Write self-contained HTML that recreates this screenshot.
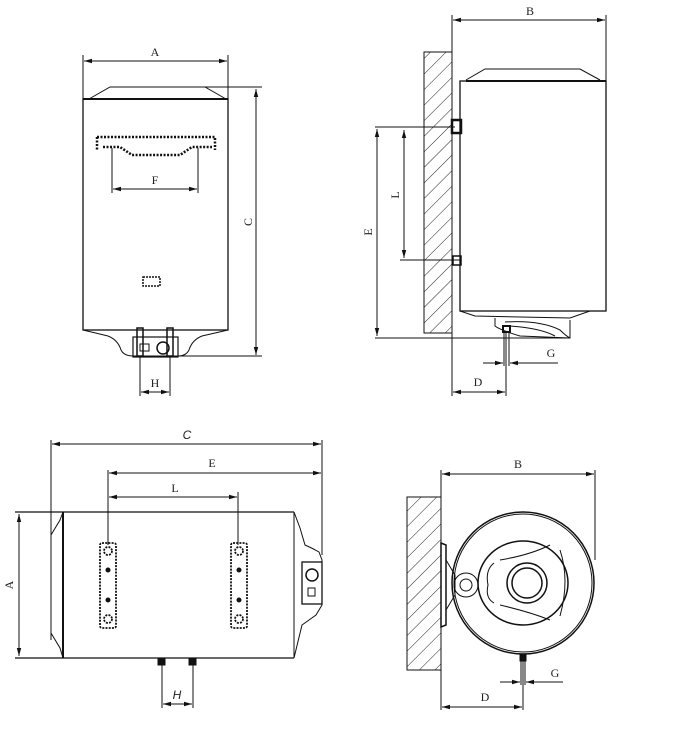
<!DOCTYPE html>
<html><head><meta charset="utf-8"><style>
html,body{margin:0;padding:0;background:#fff}
svg{display:block}
text{font-family:"Liberation Serif",serif;font-size:12px;fill:#222}
</style></head><body>
<svg width="686" height="742" viewBox="0 0 686 742" xmlns="http://www.w3.org/2000/svg">
<defs>
<marker id="ar" markerWidth="8" markerHeight="6" refX="8" refY="3" orient="auto-start-reverse" markerUnits="userSpaceOnUse"><path d="M0,0.8 L8,3 L0,5.2 z" fill="#111"/></marker>
<pattern id="hat" width="11" height="11" patternUnits="userSpaceOnUse" patternTransform="rotate(45)"><line x1="0" y1="0" x2="0" y2="11" stroke="#222" stroke-width="1"/></pattern>
</defs>
<g stroke="#111" fill="none" stroke-width="1">
<!-- VIEW 1 -->
<line x1="83" y1="55" x2="83" y2="99"/><line x1="228" y1="55" x2="228" y2="99"/>
<line x1="84" y1="61" x2="227" y2="61" marker-start="url(#ar)" marker-end="url(#ar)"/>
<rect x="83" y="99" width="145" height="231" stroke-width="1.3"/>
<line x1="83" y1="99" x2="228" y2="99" stroke-width="2"/>
<path d="M89,99 L110,87 L205,87 L226,99"/>
<line x1="205" y1="87" x2="262" y2="87"/>
<line x1="256" y1="89" x2="256" y2="355" marker-start="url(#ar)" marker-end="url(#ar)"/>
<line x1="175" y1="356" x2="262" y2="356"/>
<path d="M97,137 H215 V150 M97,137 V150 M103,147 L120,147 L132,155 H180 L192,147 H212" stroke-width="2.5" stroke-dasharray="2,1.5"/>
<line x1="112" y1="148" x2="112" y2="193"/><line x1="198" y1="148" x2="198" y2="193"/>
<line x1="113" y1="189" x2="197" y2="189" marker-start="url(#ar)" marker-end="url(#ar)"/>
<rect x="143" y="277" width="17" height="9" stroke-width="1.5" stroke-dasharray="2,1"/>
<path d="M83,330 L108,336 Q118,340 121,350 Q124,356 133,356 H178 Q186,356 189,350 Q192,340 202,336 L228,330"/>
<rect x="133" y="337" width="45" height="20" stroke-width="1.2"/>
<rect x="137" y="328" width="6" height="28" stroke-width="1.5"/><rect x="167" y="328" width="6" height="28" stroke-width="1.5"/>
<rect x="140" y="344" width="9" height="7"/><circle cx="163" cy="348" r="6" stroke-width="1.5"/>
<line x1="140" y1="356" x2="140" y2="396"/><line x1="170" y1="356" x2="170" y2="396"/>
<line x1="141" y1="392" x2="169" y2="392" marker-start="url(#ar)" marker-end="url(#ar)"/>
<!-- VIEW 2 -->
<line x1="452" y1="15" x2="452" y2="396"/><line x1="606" y1="15" x2="606" y2="81"/>
<line x1="453" y1="20" x2="605" y2="20" marker-start="url(#ar)" marker-end="url(#ar)"/>
<rect x="424" y="52" width="28" height="281" fill="url(#hat)"/>
<rect x="460" y="81" width="146" height="230" stroke-width="1.3"/>
<line x1="466" y1="81" x2="606" y2="81" stroke-width="2"/>
<path d="M466,80 L485,69 L580,69 L600,80"/>
<rect x="452" y="120" width="9" height="13" stroke-width="2.5"/>
<rect x="453" y="256" width="8" height="9" stroke-width="1.5"/>
<line x1="375" y1="127" x2="455" y2="127"/><line x1="375" y1="338" x2="570" y2="338"/>
<line x1="400" y1="260" x2="460" y2="260"/>
<line x1="377" y1="129" x2="377" y2="336" marker-start="url(#ar)" marker-end="url(#ar)"/>
<line x1="404" y1="130" x2="404" y2="258" marker-start="url(#ar)" marker-end="url(#ar)"/>
<path d="M460,311 L475,316 L570,318 L590,311 M495,318 V326 Q500,330 520,336 L570,338 V320 M505,322 Q540,320 560,330 Q566,336 570,338 M510,326 Q540,328 555,336"/>
<rect x="503" y="326" width="7" height="6" stroke-width="2"/>
<line x1="504" y1="332" x2="504" y2="366"/><line x1="509" y1="332" x2="509" y2="366"/>
<line x1="506" y1="332" x2="506" y2="396"/>
<line x1="483" y1="363" x2="503" y2="363" marker-end="url(#ar)"/>
<line x1="558" y1="363" x2="510" y2="363" marker-end="url(#ar)"/>
<line x1="453" y1="392" x2="505" y2="392" marker-start="url(#ar)" marker-end="url(#ar)"/>
<!-- VIEW 3 -->
<line x1="51" y1="440" x2="51" y2="640"/><line x1="322" y1="440" x2="322" y2="555"/>
<line x1="52" y1="444" x2="321" y2="444" marker-start="url(#ar)" marker-end="url(#ar)"/>
<line x1="108" y1="470" x2="108" y2="545"/><line x1="238" y1="492" x2="238" y2="545"/>
<line x1="109" y1="473" x2="321" y2="473" marker-start="url(#ar)" marker-end="url(#ar)"/>
<line x1="109" y1="497" x2="237" y2="497" marker-start="url(#ar)" marker-end="url(#ar)"/>
<line x1="15" y1="512" x2="294" y2="512" stroke-width="1.3"/>
<line x1="15" y1="658" x2="294" y2="658" stroke-width="1.3"/>
<line x1="19" y1="514" x2="19" y2="656" marker-start="url(#ar)" marker-end="url(#ar)"/>
<line x1="63" y1="512" x2="63" y2="658" stroke-width="2"/>
<path d="M63,512 L60,520 L51,535 V633 L60,648 L63,658"/>
<line x1="294" y1="512" x2="294" y2="658"/>
<path d="M294,512 L300,528 L305,545 Q312,548 319,552 L322,560 V605 L316,615 L302,625 L294,658"/>
<rect x="302" y="562" width="20" height="42" stroke-width="1.3"/>
<circle cx="312" cy="575" r="6" stroke-width="1.5"/><rect x="308" y="588" width="7" height="8"/>
<g stroke-width="1.8" stroke-dasharray="2,1.2">
<rect x="100" y="543" width="16" height="85" rx="2"/><rect x="231" y="543" width="16" height="85" rx="2"/>
<circle cx="108" cy="551" r="4"/><circle cx="108" cy="619" r="4"/><circle cx="239" cy="551" r="4"/><circle cx="239" cy="619" r="4"/>
</g>
<circle cx="108" cy="570" r="2" fill="#111"/><circle cx="108" cy="600" r="2" fill="#111"/>
<circle cx="239" cy="570" r="2" fill="#111"/><circle cx="239" cy="600" r="2" fill="#111"/>
<rect x="158" y="658" width="7" height="7" fill="#111"/><rect x="189" y="658" width="7" height="7" fill="#111"/>
<line x1="162" y1="665" x2="162" y2="708"/><line x1="193" y1="665" x2="193" y2="708"/>
<line x1="163" y1="704" x2="192" y2="704" marker-start="url(#ar)" marker-end="url(#ar)"/>
<!-- VIEW 4 -->
<line x1="441" y1="470" x2="441" y2="710"/><line x1="595" y1="470" x2="595" y2="560"/>
<line x1="442" y1="474" x2="594" y2="474" marker-start="url(#ar)" marker-end="url(#ar)"/>
<rect x="407" y="497" width="34" height="173" fill="url(#hat)"/>
<path d="M441,543 L446,545 V625 L441,627 Z" stroke-width="1.5"/>
<path d="M446,560 L455,575 V595 L446,610"/>
<circle cx="523" cy="583" r="71" stroke-width="1.5"/><circle cx="523" cy="583" r="69"/>
<circle cx="466" cy="585" r="12"/><circle cx="466" cy="585" r="6"/>
<ellipse cx="523" cy="583" rx="45" ry="42" stroke-width="1.5"/>
<circle cx="527" cy="583" r="20" stroke-width="1.5"/><circle cx="527" cy="583" r="15" stroke-width="1.5"/>
<path d="M494,563 Q485,570 488,585 Q485,598 494,603 M500,560 Q530,555 550,545 M500,605 Q530,612 550,620 M560,550 Q570,580 560,616"/>
<rect x="520" y="655" width="6" height="6" fill="#111"/>
<line x1="521" y1="661" x2="521" y2="685"/><line x1="525" y1="661" x2="525" y2="685"/>
<line x1="523" y1="661" x2="523" y2="710"/>
<line x1="500" y1="682" x2="520" y2="682" marker-end="url(#ar)"/>
<line x1="563" y1="682" x2="526" y2="682" marker-end="url(#ar)"/>
<line x1="442" y1="707" x2="522" y2="707" marker-start="url(#ar)" marker-end="url(#ar)"/>
</g>
<text x="155" y="56" text-anchor="middle">A</text>
<text x="155" y="184" text-anchor="middle">F</text>
<text x="155" y="387" text-anchor="middle">H</text>
<text transform="translate(252,222) rotate(-90)" text-anchor="middle">C</text>
<text x="530" y="15" text-anchor="middle">B</text>
<text transform="translate(372,232) rotate(-90)" text-anchor="middle">E</text>
<text transform="translate(399,195) rotate(-90)" text-anchor="middle">L</text>
<text x="551" y="357" text-anchor="middle">G</text>
<text x="478" y="386" text-anchor="middle">D</text>
<text x="187" y="439" text-anchor="middle" font-style="italic" style="font-family:'Liberation Sans',sans-serif">C</text>
<text x="212" y="467" text-anchor="middle">E</text>
<text x="175" y="492" text-anchor="middle">L</text>
<text transform="translate(13,585) rotate(-90)" text-anchor="middle">A</text>
<text x="177" y="699" text-anchor="middle" font-style="italic" style="font-family:'Liberation Sans',sans-serif">H</text>
<text x="518" y="468" text-anchor="middle">B</text>
<text x="555" y="677" text-anchor="middle">G</text>
<text x="485" y="701" text-anchor="middle">D</text>
</svg>
</body></html>
